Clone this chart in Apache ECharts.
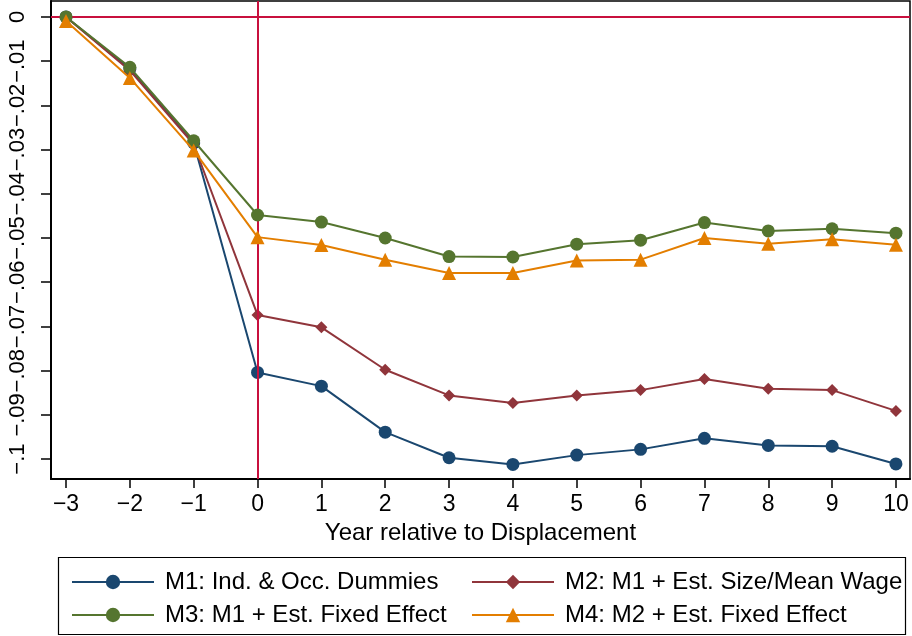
<!DOCTYPE html>
<html>
<head>
<meta charset="utf-8">
<script src="https://cdn.jsdelivr.net/npm/echarts@6/dist/echarts.min.js"></script>
<style>html,body{margin:0;padding:0;background:#fff}#c{width:912px;height:636px}</style>
</head>
<body>
<div id="c"></div>
<script>
const years = [-3,-2,-1,0,1,2,3,4,5,6,7,8,9,10];
const m1 = [0,-0.0118,-0.0285,-0.0804,-0.0835,-0.0939,-0.0997,-0.1012,-0.0991,-0.0978,-0.0953,-0.0969,-0.0971,-0.1011];
const m2 = [0,-0.0121,-0.0288,-0.0674,-0.0702,-0.0798,-0.0856,-0.0873,-0.0856,-0.0844,-0.0819,-0.0841,-0.0844,-0.0891];
const m3 = [0,-0.0114,-0.0280,-0.0448,-0.0464,-0.0500,-0.0542,-0.0543,-0.0514,-0.0505,-0.0465,-0.0484,-0.0479,-0.0489];
const m4 = [-0.0009,-0.0138,-0.0302,-0.0498,-0.0516,-0.0549,-0.0579,-0.0579,-0.0551,-0.0549,-0.0500,-0.0513,-0.0503,-0.0515];
const names = ['M1: Ind. & Occ. Dummies','M2: M1 + Est. Size/Mean Wage','M3: M1 + Est. Fixed Effect','M4: M2 + Est. Fixed Effect'];
const xTicks = [-3,-2,-1,0,1,2,3,4,5,6,7,8,9,10];
const yTicks = [0,-0.01,-0.02,-0.03,-0.04,-0.05,-0.06,-0.07,-0.08,-0.09,-0.1];
const xTitle = 'Year relative to Displacement';

const FONT = '"Liberation Sans",Arial,Helvetica,sans-serif';
const colors = ['#1a476f','#90353b','#55752f','#e37e00'];
const symbols = ['circle','diamond','circle','triangle'];
const sizes = [13,12,13,14];
const allData = [m1,m2,m3,m4];

function fmtY(v){
  if (Math.abs(v) < 1e-9) return '0';
  let s = Math.abs(v).toFixed(2).replace(/0+$/,'').replace(/^0/,'');
  return (v<0?'\u2212':'') + s;
}
function fmtX(v){ return (v<0?'\u2212':'') + Math.abs(v); }

const series = allData.map((d,i)=>({
  name: names[i], type:'line', data: years.map((y,j)=>[y,d[j]]),
  symbol: symbols[i], symbolSize: sizes[i], showSymbol:true,
  lineStyle:{color:colors[i], width:2}, itemStyle:{color:colors[i]},
  z: 3+i, animation:false
}));
series.push({
  type:'line', data:[], z:1, silent:true,
  markLine:{symbol:'none', silent:true, animation:false, label:{show:false},
    lineStyle:{color:'#c8103e', width:2, type:'solid'},
    data:[{yAxis:0}]}
});
series.push({
  type:'line', data:[], z:10, silent:true,
  markLine:{symbol:'none', silent:true, animation:false, label:{show:false},
    lineStyle:{color:'#c8103e', width:2, type:'solid'},
    data:[{xAxis:0}]}
});

const legendText = {fontFamily:FONT, fontSize:24, color:'#000', padding:[0,0,0,6]};
const chart = echarts.init(document.getElementById('c'), null, {renderer:'canvas'});
chart.setOption({
  animation:false,
  backgroundColor:'#fff',
  grid:{left:51, right:2, top:1, bottom:157, show:true, borderColor:'#000', borderWidth:1.5, backgroundColor:'#fff'},
  xAxis:{type:'value', min:-3.235, max:10.22,
    name:xTitle, nameLocation:'middle', nameGap:38,
    nameTextStyle:{fontFamily:FONT, fontSize:24, color:'#000'},
    axisLine:{show:true, onZero:false, lineStyle:{color:'#000', width:2}},
    axisTick:{show:true, length:9, lineStyle:{color:'#000', width:1.5}, customValues:xTicks},
    axisLabel:{fontFamily:FONT, fontSize:23, color:'#000', margin:14, customValues:xTicks, formatter:fmtX},
    splitLine:{show:false}},
  yAxis:{type:'value', min:-0.1045, max:0.0036,
    axisLine:{show:true, onZero:false, lineStyle:{color:'#000', width:2}},
    axisTick:{show:true, length:10, lineStyle:{color:'#000', width:1.5}, customValues:yTicks},
    axisLabel:{fontFamily:FONT, fontSize:22, color:'#000', rotate:90, margin:22, customValues:yTicks, formatter:fmtY},
    splitLine:{show:false}},
  graphic:[{type:'rect', shape:{x:58.5, y:557.5, width:847, height:77}, style:{fill:'#fff', stroke:'#000', lineWidth:1.2}, z:0}],
  legend:[
    {orient:'vertical', left:66, top:565, itemWidth:82, itemHeight:18, itemGap:9,
     data:[names[0],names[2]], textStyle:legendText},
    {orient:'vertical', left:466, top:565, itemWidth:82, itemHeight:18, itemGap:9,
     data:[names[1],names[3]], textStyle:legendText}
  ],
  series: series
});
</script>
</body>
</html>
